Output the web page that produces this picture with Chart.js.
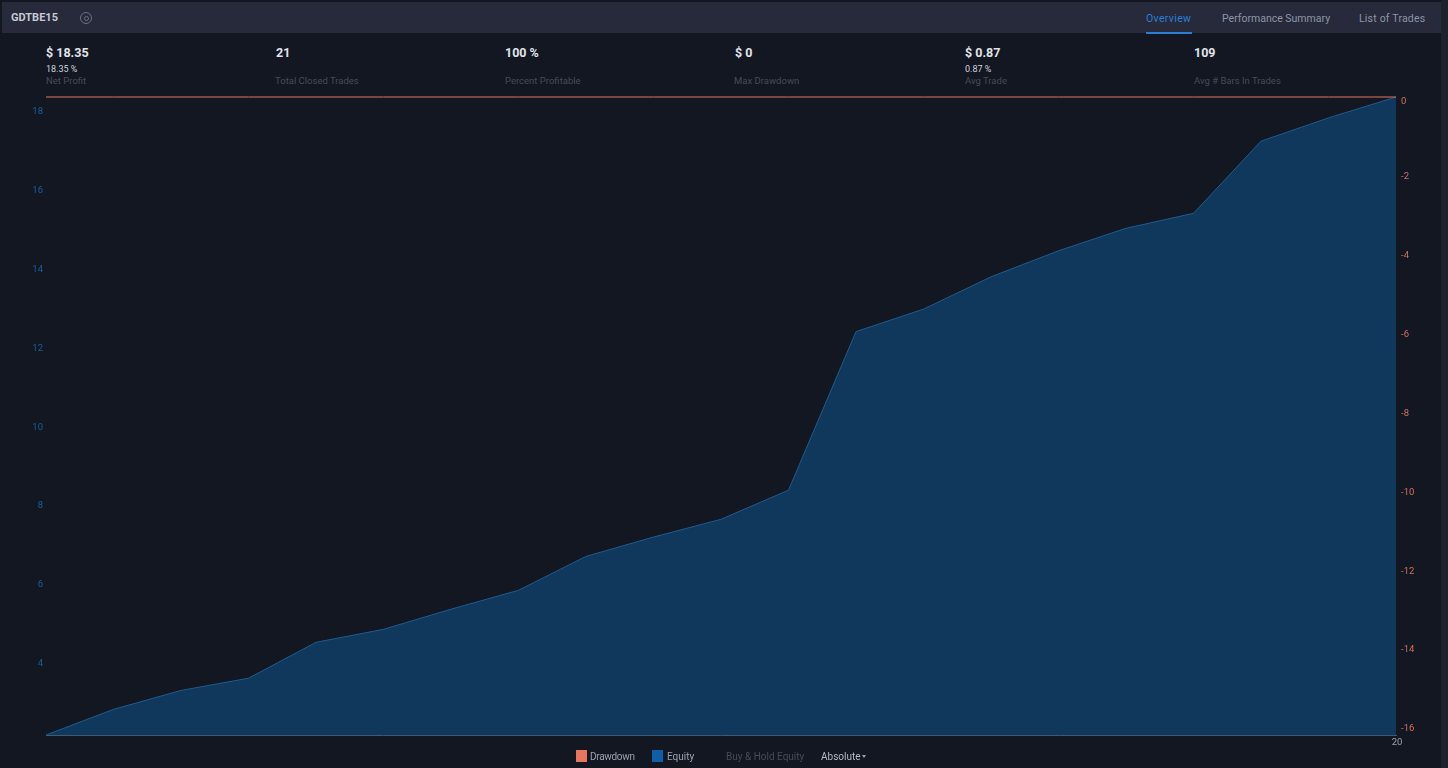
<!DOCTYPE html>
<html>
<head>
<meta charset="utf-8">
<title>GDTBE15</title>
<script src="https://cdn.jsdelivr.net/npm/chart.js@4"></script>
<style>
  html, body { margin: 0; padding: 0; background: #131722; overflow: hidden; }
  body { width: 1448px; height: 768px; position: relative; font-family: Roboto, sans-serif; }
  canvas { position: absolute; left: 0; top: 0; }
  .txt { position: absolute; white-space: nowrap; }
  #bar { position: absolute; left: 2px; top: 2px; width: 1439px; height: 31px; background: #262a3b; }
  #strip { position: absolute; left: 1441px; top: 0; width: 7px; height: 768px; background: #1e222d; }
  #under { position: absolute; left: 1146px; top: 32px; width: 46px; height: 2px; background: #2a7fd4; }
  .tab { font-size: 10.5px; top: 12px; color: #8e95a5; }
  .big { font-size: 12.5px; font-weight: 700; top: 45px; color: #e2e4ea; }
  .sub { font-size: 9px; top: 64px; color: #cfd2da; }
  .cap { font-size: 9.5px; top: 75px; color: #464b58; }
  .leg { font-size: 10px; top: 751px; color: #9aa1b0; }
  .sw { position: absolute; top: 750px; width: 11px; height: 12px; }
  #gear { position: absolute; left: 80px; top: 12px; width: 10px; height: 10px; border: 1px solid #6a7080; border-radius: 50%; }
  #gear:after { content: ""; position: absolute; left: 2.5px; top: 2.5px; width: 3px; height: 3px; border: 1px solid #6a7080; border-radius: 50%; }
  #caret { position: absolute; left: 862px; top: 755px; border-left: 2.5px solid transparent; border-right: 2.5px solid transparent; border-top: 3px solid #9aa1b0; }
</style>
</head>
<body>
<div id="bar"></div>
<div id="strip"></div>
<div class="txt" style="left:11px;top:11px;font-size:11px;font-weight:700;color:#c5c9d3">GDTBE15</div>
<div id="gear"></div>
<div class="txt tab" style="left:1146px;color:#2a7fd4;letter-spacing:0.35px">Overview</div>
<div class="txt tab" style="left:1222px">Performance Summary</div>
<div class="txt tab" style="left:1359px;letter-spacing:0.2px">List of Trades</div>
<div id="under"></div>

<div class="txt big" style="left:46px">$ 18.35</div>
<div class="txt sub" style="left:46px">18.35 %</div>
<div class="txt cap" style="left:46px">Net Profit</div>
<div class="txt big" style="left:276px">21</div>
<div class="txt cap" style="left:275px">Total Closed Trades</div>
<div class="txt big" style="left:505px">100 %</div>
<div class="txt cap" style="left:505px">Percent Profitable</div>
<div class="txt big" style="left:735px">$ 0</div>
<div class="txt cap" style="left:734px">Max Drawdown</div>
<div class="txt big" style="left:965px">$ 0.87</div>
<div class="txt sub" style="left:965px">0.87 %</div>
<div class="txt cap" style="left:965px">Avg Trade</div>
<div class="txt big" style="left:1194px">109</div>
<div class="txt cap" style="left:1194px">Avg # Bars In Trades</div>

<canvas id="chart" width="1448" height="768"></canvas>

<div class="sw" style="left:576px;background:#e8755c"></div>
<div class="txt leg" style="left:590px;letter-spacing:-0.3px">Drawdown</div>
<div class="sw" style="left:652px;background:#0f5ea8"></div>
<div class="txt leg" style="left:667px">Equity</div>
<div class="txt leg" style="left:726px;color:#464b58">Buy &amp; Hold Equity</div>
<div class="txt leg" style="left:821px;color:#b4b9c4">Absolute</div>
<div id="caret"></div>

<script>
const trades = ['0', '1', '2', '3', '4', '5', '6', '7', '8', '9', '10', '11', '12', '13', '14', '15', '16', '17', '18', '19', '20'];
const equity = [2.17, 2.82, 3.30, 3.61, 4.52, 4.85, 5.36, 5.84, 6.70, 7.19, 7.64, 8.38, 12.40, 12.97, 13.79, 14.45, 15.02, 15.40, 17.23, 17.82, 18.35];
const drawdown = [0, 0, 0, 0, 0, 0, 0, 0, 0, 0, 0, 0, 0, 0, 0, 0, 0, 0, 0, 0, 0];
const equityTicks = [18, 16, 14, 12, 10, 8, 6, 4];
const drawdownTicks = [0, -2, -4, -6, -8, -10, -12, -14, -16];

const setTicks = values => scale => { scale.ticks = values.map(v => ({ value: v })); };

new Chart(document.getElementById('chart'), {
  type: 'line',
  data: {
    labels: trades,
    datasets: [{
      label: 'Drawdown',
      data: drawdown,
      yAxisID: 'yRight',
      borderColor: '#e8755c',
      borderWidth: 1,
      pointRadius: 0,
      fill: false,
      clip: false
    }, {
      label: 'Equity',
      data: equity,
      yAxisID: 'yLeft',
      borderColor: '#1f5c8f',
      backgroundColor: '#10375c',
      borderWidth: 1,
      pointRadius: 0,
      fill: 'start',
      clip: false
    }]
  },
  options: {
    responsive: false,
    animation: false,
    devicePixelRatio: 1,
    layout: { padding: { top: 97 } },
    plugins: { legend: { display: false }, tooltip: { enabled: false } },
    scales: {
      x: {
        offset: false,
        grid: { display: false, drawTicks: false },
        border: { color: '#3d5a76', width: 1 },
        afterFit: s => { s.height = 33; },
        ticks: {
          autoSkip: false,
          maxRotation: 0,
          padding: 2,
          labelOffset: 1,
          color: '#9aa1b0',
          font: { family: 'Roboto', size: 9.5 },
          callback: (v, i) => (i === trades.length - 1 ? trades[i] : '')
        }
      },
      yLeft: {
        position: 'left',
        min: 2.17,
        max: 18.35,
        grid: { display: false, drawTicks: false },
        border: { display: false },
        afterFit: s => { s.width = 46; },
        afterBuildTicks: setTicks(equityTicks),
        ticks: { padding: 3, labelOffset: 1, color: '#1a5f9e', font: { family: 'Roboto', size: 9.5 } }
      },
      yRight: {
        position: 'right',
        min: -16.18,
        max: 0,
        grid: { display: false, drawTicks: false },
        border: { display: false },
        afterFit: s => { s.width = 52; },
        afterBuildTicks: setTicks(drawdownTicks),
        ticks: {
          padding: 5,
          labelOffset: 1,
          color: '#d0705a',
          font: { family: 'Roboto', size: 9.5, lineHeight: '8px' },
          // the top label sits just under the axis end
          callback: v => (v === 0 ? ['', '0'] : String(v))
        }
      }
    }
  }
});
</script>
</body>
</html>
